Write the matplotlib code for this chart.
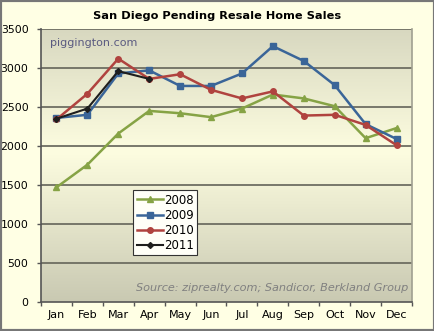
import matplotlib
matplotlib.use('Agg')
import matplotlib.pyplot as plt
import numpy as np
from matplotlib.colors import LinearSegmentedColormap

months = ['Jan', 'Feb', 'Mar', 'Apr', 'May', 'Jun', 'Jul', 'Aug', 'Sep', 'Oct', 'Nov', 'Dec']
sales_2008 = [1470, 1760, 2160, 2450, 2420, 2370, 2480, 2660, 2610, 2510, 2100, 2230]
sales_2009 = [2360, 2400, 2930, 2970, 2770, 2770, 2930, 3280, 3090, 2780, 2280, 2090]
sales_2010 = [2340, 2670, 3120, 2860, 2920, 2720, 2610, 2700, 2390, 2400, 2270, 2010]
sales_2011 = [2350, 2480, 2960, 2860]

BG = '#ffffe4'

fig = plt.figure(figsize=(4.35, 3.31), dpi=100, facecolor=BG)
ax = fig.add_axes([41/435, 1 - 302/331, 371/435, 273/331])

# gradient plot area: greyish at top, light in the middle, slightly darker at bottom
cmap = LinearSegmentedColormap.from_list('bg', [
    (0.0, '#d8d8c0'), (0.45, '#fdfde0'), (1.0, '#c9c9b2')])
grad = np.linspace(0, 1, 256).reshape(-1, 1)
ax.imshow(grad, cmap=cmap, aspect='auto', extent=[0, 1, 0, 1],
          transform=ax.transAxes, zorder=0)

x = np.arange(len(months))
ax.plot(x, sales_2008, color='#86a345', lw=1.8, marker='^', ms=4, label='2008', zorder=3)
ax.plot(x, sales_2009, color='#3a6598', lw=1.8, marker='s', ms=4, label='2009', zorder=3)
ax.plot(x, sales_2010, color='#b0433f', lw=1.8, marker='o', ms=4, label='2010', zorder=3)
ax.plot(x[:len(sales_2011)], sales_2011, color='#1e1e1e', lw=1.5, marker='D', ms=3, label='2011', zorder=4)

ax.set_xlim(-0.5, 11.5)
ax.set_ylim(0, 3500)
ax.set_yticks(range(0, 3501, 500))
for v in range(500, 3501, 500):
    ax.axhline(v, color='#6e6e62', lw=1.3, zorder=1)

ax.set_xticks(x)
ax.set_xticklabels(months)
ax.set_xticks(np.arange(-0.5, 12, 1), minor=True)
ax.tick_params(axis='x', which='major', length=0, labelsize=8, pad=6)
ax.tick_params(axis='x', which='minor', length=3, width=1, color='#555555')
ax.tick_params(axis='y', length=3, width=1, color='#555555', labelsize=7.8, pad=6)

ax.spines['top'].set_visible(False)
ax.spines['right'].set_color('#a0a090')
ax.spines['right'].set_linewidth(1.2)
ax.spines['left'].set_color('#555555')
ax.spines['bottom'].set_color('#555555')
ax.spines['left'].set_linewidth(1.2)
ax.spines['bottom'].set_linewidth(1.2)

fig.text(0.5, 1 - 16/331, 'San Diego Pending Resale Home Sales', ha='center', va='center',
         fontsize=8.2, fontweight='bold')
ax.text(0.025, 0.95, 'piggington.com', transform=ax.transAxes, fontsize=8,
        color='#5a5a80', va='center')
ax.text(0.99, 0.05, 'Source: ziprealty.com; Sandicor, Berkland Group', transform=ax.transAxes,
        fontsize=8.1, color='#808080', style='italic', ha='right', va='center')

leg = ax.legend(loc='upper left', bbox_to_anchor=((133 - 41) / 371, (302 - 190) / 273),
                fontsize=8.5, frameon=True, fancybox=False, handlelength=2.2,
                handletextpad=0.1, borderpad=0.3, labelspacing=0.18, borderaxespad=0)
leg.get_frame().set_facecolor('#fffff8')
leg.get_frame().set_edgecolor('#333333')
leg.get_frame().set_linewidth(0.8)
leg.get_frame().set_alpha(1)

# outer border
fig.patches.append(plt.Rectangle((0, 0), 1, 1, transform=fig.transFigure, fill=False,
                                 edgecolor='#777777', lw=3))

fig.savefig('out.png', dpi=100, facecolor=BG)
